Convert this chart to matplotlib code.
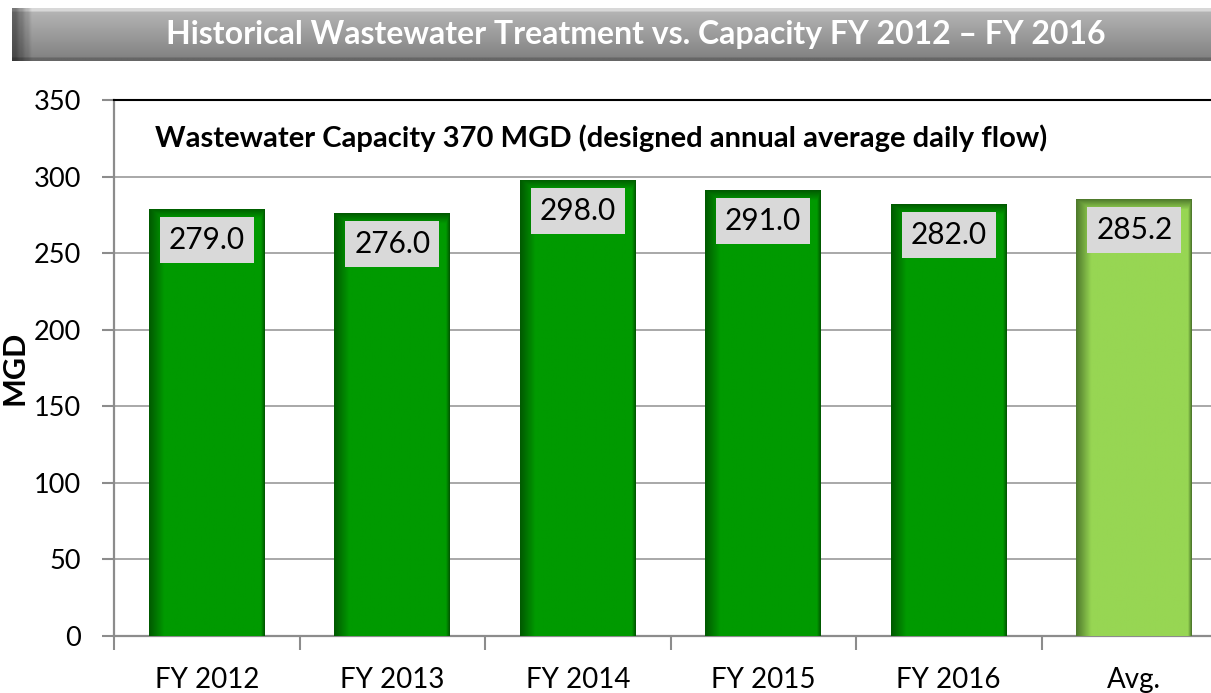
import numpy as np
import matplotlib
matplotlib.use("Agg")
from matplotlib import pyplot as plt
from matplotlib.colors import to_rgb

plt.rcParams['font.family'] = ['Lato', 'DejaVu Sans']

categories = ["FY 2012", "FY 2013", "FY 2014", "FY 2015", "FY 2016", "Avg."]
flows = [279.0, 276.0, 298.0, 291.0, 282.0, 285.2]
bar_colors = ["#009a00"] * 5 + ["#97d653"]
edge_colors = ["#005a00"] * 5 + ["#4f7a2c"]
title = "Historical Wastewater Treatment vs. Capacity FY 2012 \u2013 FY 2016"
note = "Wastewater Capacity 370 MGD (designed annual average daily flow)"

fig = plt.figure(figsize=(12.11, 6.93), dpi=100)

# title banner with a grey gradient
bax = fig.add_axes([12 / 1211, 1 - 61 / 693, 1199 / 1211, 53 / 693])
g = np.linspace(0, 1, 60)
shade = 0.72 - 0.22 * g
shade[:4] = 0.85
shade[-4:] = 0.40
img = np.repeat(shade[:, None], 200, axis=1)
left = np.clip(np.linspace(0, 1, 200) / 0.015, 0, 1)
img = img * (0.55 + 0.45 * left)[None, :]
bax.imshow(np.dstack([img, img, img]), aspect="auto", extent=[0, 1, 0, 1])
bax.text(0.52, 0.5, title, color="white", fontsize=23, fontweight="bold",
         ha="center", va="center", transform=bax.transAxes)
bax.set_axis_off()

ax = fig.add_axes([114 / 1211, 57 / 693, 1113 / 1211, 536 / 693])
x = np.arange(len(categories))
width = 0.625
bars = ax.bar(x, flows, width=width, color=bar_colors, zorder=2)

# shade bar edges to mimic the bevel look
for b, c, ec in zip(bars, bar_colors, edge_colors):
    x0, w, h = b.get_x(), b.get_width(), b.get_height()
    xs = np.linspace(0, 1, 120)
    ys = np.linspace(h, 0, 400)
    fx = np.clip(xs / 0.13, 0, 1) * np.clip((1 - xs) / 0.03, 0, 1)
    fy = np.clip((h - ys) / 6.5, 0, 1)
    f = np.minimum(fx[None, :], fy[:, None])
    c1, c2 = np.array(to_rgb(c)), np.array(to_rgb(ec))
    rgb = c2[None, None, :] + (c1 - c2)[None, None, :] * f[:, :, None]
    im = ax.imshow(rgb, extent=[x0, x0 + w, 0, h], aspect="auto", zorder=3)
    im.set_clip_path(b)
    ax.text(x0 + w / 2, h - 20.3, f"{h:.1f}", ha="center", va="center",
            fontsize=21.5, zorder=4,
            bbox=dict(boxstyle="square,pad=0.3", fc="#d9d9d9", ec="none"))

ax.set_xlim(-0.5, len(categories) - 0.5)
ax.set_ylim(0, 350)
ax.set_yticks(np.arange(0, 351, 50))
ax.set_xticks(x)
ax.set_xticklabels(categories, fontsize=20)
ax.set_xticks(np.arange(-0.5, len(categories), 1), minor=True)
ax.tick_params(axis="x", which="major", length=0, pad=22)
ax.tick_params(axis="x", which="minor", length=10, width=1.5, color="#8c8c8c")
ax.tick_params(axis="y", labelsize=19.5, length=9, width=1.5, color="#8c8c8c", pad=15)
ax.yaxis.grid(True, color="#9a9a9a", linewidth=1.2, zorder=0)
ax.set_axisbelow(True)
for s in ["left", "bottom"]:
    ax.spines[s].set_color("#8c8c8c")
    ax.spines[s].set_linewidth(1.6)
ax.spines["top"].set_color("black")
ax.spines["top"].set_linewidth(1.5)
ax.spines["right"].set_visible(False)
ax.set_ylabel("MGD", fontsize=22, fontweight="bold")
ax.yaxis.set_label_coords(-0.077, 0.5)

ax.text(0.037, 0.955, note, transform=ax.transAxes, fontsize=21,
        fontweight="bold", ha="left", va="top")

fig.savefig("out.png", dpi=100)
